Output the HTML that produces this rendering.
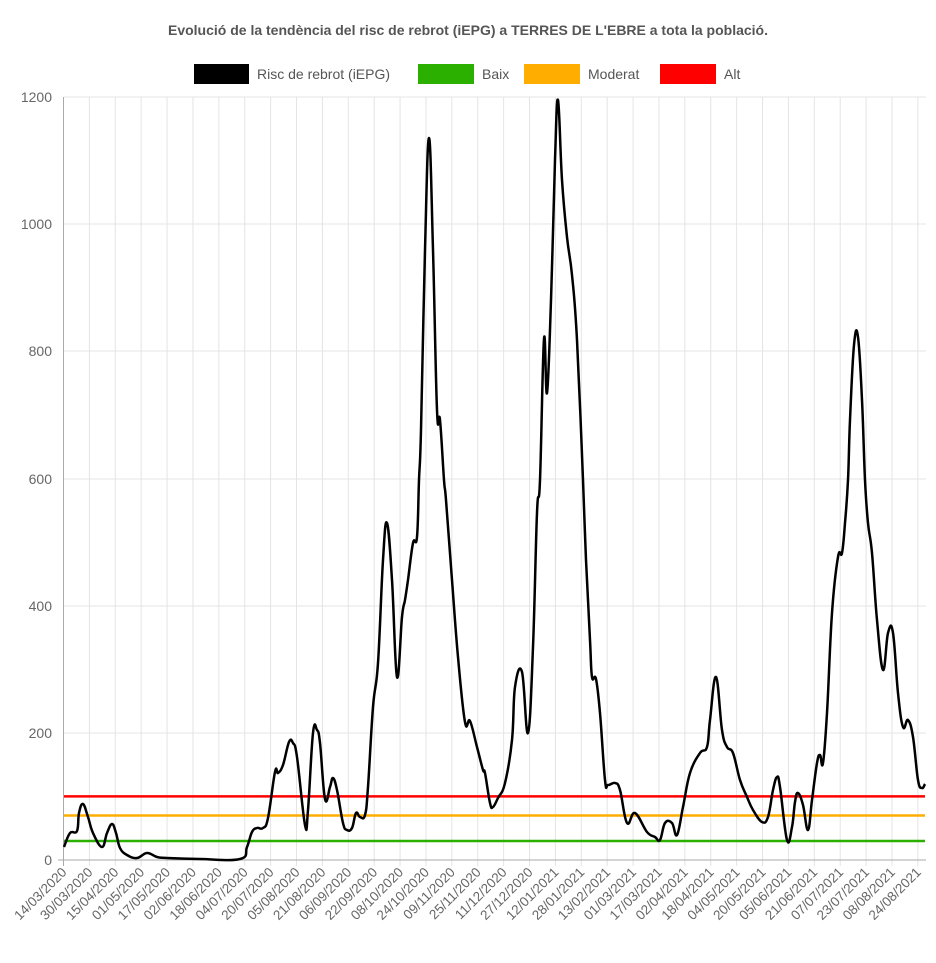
<!DOCTYPE html><html><head><meta charset="utf-8"><style>body{margin:0;background:#fff}svg{font-family:"Liberation Sans",Arial,sans-serif}</style></head><body>
<svg width="936" height="958" viewBox="0 0 936 958" xmlns="http://www.w3.org/2000/svg">
<text x="468" y="35" text-anchor="middle" font-size="14" font-weight="bold" fill="#555">Evolució de la tendència del risc de rebrot (iEPG) a TERRES DE L'EBRE a tota la població.</text>
<g font-size="14" fill="#555">
<rect x="194" y="64" width="55" height="20" fill="#000"/><text x="257" y="79">Risc de rebrot (iEPG)</text>
<rect x="418" y="64" width="56" height="20" fill="#2bb000"/><text x="482" y="79">Baix</text>
<rect x="524" y="64" width="56" height="20" fill="#ffae00"/><text x="588" y="79">Moderat</text>
<rect x="660" y="64" width="56" height="20" fill="#ff0000"/><text x="724" y="79">Alt</text>
</g>
<g id="grid" stroke="#e4e4e4" stroke-width="1"></g>
<g stroke="#e4e4e4">
<line x1="64" x2="926" y1="97" y2="97"/><line x1="64" x2="926" y1="224" y2="224"/><line x1="64" x2="926" y1="351" y2="351"/><line x1="64" x2="926" y1="479" y2="479"/><line x1="64" x2="926" y1="606" y2="606"/><line x1="64" x2="926" y1="733" y2="733"/>
</g>
<g font-size="14" fill="#666" text-anchor="end">
<text x="52" y="102">1200</text><text x="52" y="229">1000</text><text x="52" y="356">800</text><text x="52" y="484">600</text><text x="52" y="611">400</text><text x="52" y="738">200</text><text x="52" y="865">0</text>
</g>
<g id="xl" font-size="13.5" fill="#666" text-anchor="end"></g>
<line x1="63.5" x2="63.5" y1="97" y2="866" stroke="#aaa"/>
<line x1="58" x2="926" y1="860" y2="860" stroke="#aaa"/>
<line x1="64" x2="925" y1="841" y2="841" stroke="#2bb000" stroke-width="2.5"/>
<line x1="64" x2="925" y1="815.5" y2="815.5" stroke="#ffae00" stroke-width="2.5"/>
<line x1="64" x2="925" y1="796.4" y2="796.4" stroke="#ff0000" stroke-width="2.5"/>
<path id="ser" fill="none" stroke="#000" stroke-width="2.5" stroke-linejoin="round"/>
</svg>
<script>
var pts="64,847 70,833 77,831 79,813 83,804 88,817 93,833 102,847 107,833 112,824 116,833 120,848 127,855 137,858 147,853 157,857 167,858 200,859 240,859 247,847 252,832 257,828 263,828 268,818 275,772 278,773 283,765 289,742 293,743 297,757 305,825 308,810 313,733 317,730 320,743 325,799 330,787 333,778 337,790 343,823 347,830 352,828 356,813 360,817 365,815 368,787 373,707 378,663 383,560 387,523 392,580 397,677 402,617 405,600 408,580 413,543 417,537 419,480 421,430 425,250 429,138 433,250 437,410 440,420 444,480 446,500 452,580 458,657 465,722 470,721 477,747 483,770 485,773 490,803 493,807 498,798 505,783 512,740 515,687 522,672 528,733 533,647 537,513 540,480 544,339 547,393 551,300 555,160 558,100 562,180 567,237 572,275 577,340 583,480 586,560 590,640 592,677 596,679 600,713 605,780 608,785 615,783 620,790 627,823 635,813 647,832 655,837 660,840 665,823 672,823 677,835 683,807 690,773 700,753 707,747 710,720 716,677 722,730 727,747 733,753 740,780 747,797 753,810 762,822 768,817 773,790 777,777 780,787 787,840 792,827 795,802 798,793 803,805 808,830 812,800 817,763 820,755 823,763 827,713 832,613 838,557 842,553 845,523 848,480 850,420 854,345 858,337 862,400 865,480 868,523 872,553 877,620 883,670 888,633 893,633 898,693 903,727 908,720 913,737 918,780 922,788 925,784".split(" ").map(function(s){return s.split(",").map(Number)});
var p="M"+pts[0][0]+","+pts[0][1];
for(var i=0;i<pts.length-1;i++){var a=pts[i>0?i-1:i],b=pts[i],c=pts[i+1],e=pts[i+2<pts.length?i+2:i+1],k=0.2;
p+=" C"+(b[0]+(c[0]-a[0])*k)+","+(b[1]+(c[1]-a[1])*k)+" "+(c[0]-(e[0]-b[0])*k)+","+(c[1]-(e[1]-b[1])*k)+" "+c[0]+","+c[1];}
document.getElementById('ser').setAttribute('d',p);
var d=["14/03/2020","30/03/2020","15/04/2020","01/05/2020","17/05/2020","02/06/2020","18/06/2020","04/07/2020","20/07/2020","05/08/2020","21/08/2020","06/09/2020","22/09/2020","08/10/2020","24/10/2020","09/11/2020","25/11/2020","11/12/2020","27/12/2020","12/01/2021","28/01/2021","13/02/2021","01/03/2021","17/03/2021","02/04/2021","18/04/2021","04/05/2021","20/05/2021","05/06/2021","21/06/2021","07/07/2021","23/07/2021","08/08/2021","24/08/2021"];
var g=document.getElementById('grid'),xl=document.getElementById('xl'),ns="http://www.w3.org/2000/svg";
for(var i=0;i<d.length;i++){var x=63.5+i*25.89;
if(i>0){var l=document.createElementNS(ns,'line');l.setAttribute('x1',x);l.setAttribute('x2',x);l.setAttribute('y1',97);l.setAttribute('y2',866);g.appendChild(l);}
var t=document.createElementNS(ns,'text');t.setAttribute('transform','translate('+(x+4)+',873) rotate(-45)');t.textContent=d[i];xl.appendChild(t);}
</script>
</body></html>
